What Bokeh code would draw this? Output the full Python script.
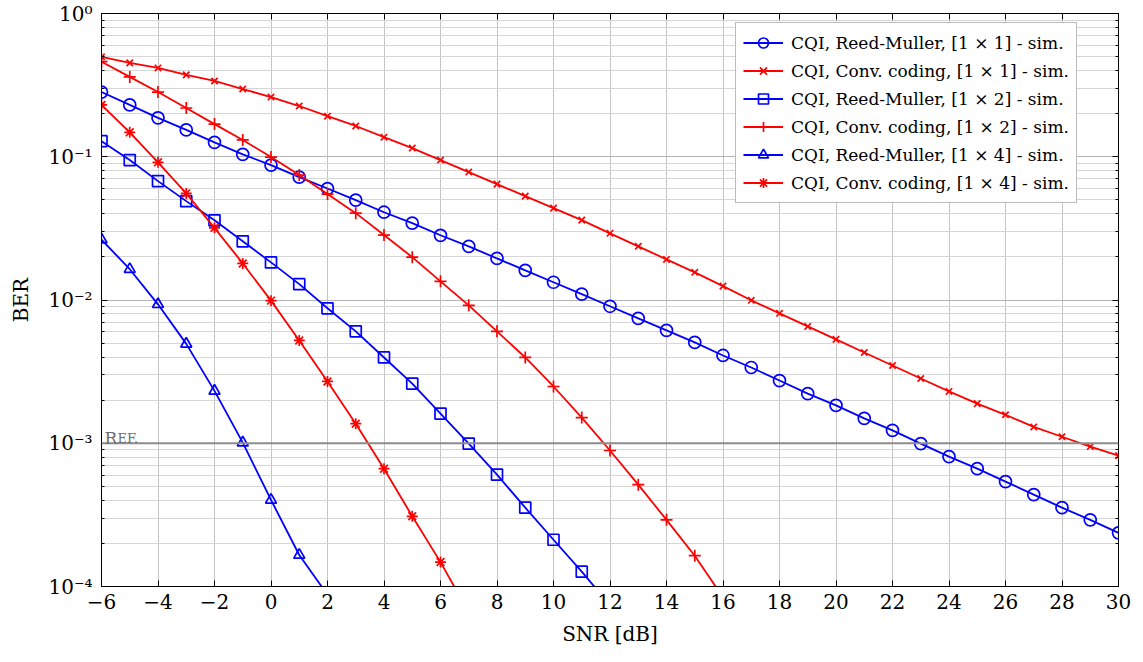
from bokeh.plotting import figure
from bokeh.models import (FixedTicker, CustomJSTickFormatter, LinearAxis, LogAxis,
                          Span, Label, Legend, LegendItem, Range1d)
from bokeh.embed import file_html
from bokeh.resources import INLINE

# ---- data: bit error rate vs. SNR ----
snr_rm_1x1 = list(range(-6, 31))
ber_rm_1x1 = [0.283, 0.230, 0.187, 0.154, 0.126, 0.104, 0.0875, 0.072, 0.060, 0.0498,
              0.041, 0.0344, 0.0283, 0.0237, 0.0195, 0.0161, 0.0133, 0.011, 0.00904,
              0.00745, 0.00614, 0.00506, 0.0041, 0.00338, 0.00274, 0.00222, 0.00184,
              0.00149, 0.00123, 0.000995, 0.000807, 0.000665, 0.00054, 0.000438,
              0.000355, 0.000292, 0.000237]

snr_cc_1x1 = list(range(-6, 31))
ber_cc_1x1 = [0.498, 0.452, 0.417, 0.373, 0.338, 0.297, 0.261, 0.226, 0.192, 0.164,
              0.137, 0.115, 0.0948, 0.0782, 0.0644, 0.0531, 0.0438, 0.0361, 0.0292,
              0.0237, 0.0192, 0.0156, 0.0125, 0.00995, 0.00807, 0.00654, 0.00531,
              0.0043, 0.00349, 0.00283, 0.0023, 0.00189, 0.00158, 0.0013, 0.00111,
              0.000948, 0.00082]

snr_rm_1x2 = list(range(-6, 13))
ber_rm_1x2 = [0.1285, 0.0948, 0.0676, 0.049, 0.036, 0.0257, 0.0183, 0.0129, 0.00875,
              0.00604, 0.00397, 0.00261, 0.00161, 0.000995, 0.000604, 0.000355,
              0.000212, 0.000127, 0.000074]

snr_cc_1x2 = list(range(-6, 17))
ber_cc_1x2 = [0.461, 0.361, 0.283, 0.219, 0.169, 0.131, 0.0995, 0.0745, 0.0549,
              0.0404, 0.0284, 0.0199, 0.0135, 0.00918, 0.00604, 0.00397, 0.00249,
              0.00151, 0.00089, 0.000514, 0.000292, 0.000164, 0.000084]

snr_rm_1x4 = list(range(-6, 3))
ber_rm_1x4 = [0.0264, 0.0164, 0.00933, 0.00494, 0.00232, 0.00101, 0.000402,
              0.000166, 0.0000875]

snr_cc_1x4 = list(range(-6, 8))
ber_cc_1x4 = [0.23, 0.148, 0.0914, 0.0555, 0.0319, 0.018, 0.0099, 0.00522, 0.0027,
              0.00137, 0.000664, 0.000309, 0.000148, 0.000066]

ref_ber = 1e-3

x_ticks = list(range(-6, 31, 2))
y_ticks = [1e-4, 1e-3, 1e-2, 1e-1, 1.0]
y_tick_labels = ["10\u207b\u2074", "10\u207b\u00b3", "10\u207b\u00b2", "10\u207b\u00b9", "10\u2070"]
y_minor = [m * d for d in (1e-4, 1e-3, 1e-2, 1e-1) for m in range(2, 10)]

labels = [
    "CQI, Reed-Muller, [1 \u00d7 1] - sim.",
    "CQI, Conv. coding, [1 \u00d7 1] - sim.",
    "CQI, Reed-Muller, [1 \u00d7 2] - sim.",
    "CQI, Conv. coding, [1 \u00d7 2] - sim.",
    "CQI, Reed-Muller, [1 \u00d7 4] - sim.",
    "CQI, Conv. coding, [1 \u00d7 4] - sim.",
]

FONT = "DejaVu Serif"
BLUE = "#0000ff"
RED = "#ff0000"

p = figure(width=1143, height=662, y_axis_type="log",
           x_range=Range1d(-6, 30), y_range=Range1d(1e-4, 1),
           output_backend="svg", toolbar_location=None,
           min_border_left=101, min_border_right=25,
           min_border_top=13, min_border_bottom=76)
p.background_fill_color = "white"
p.border_fill_color = "white"
p.outline_line_color = "black"
p.outline_line_width = 1

# grid
xt = FixedTicker(ticks=x_ticks)
yt = FixedTicker(ticks=y_ticks, minor_ticks=y_minor)
p.xaxis.ticker = xt
p.yaxis.ticker = yt
p.xgrid.ticker = xt
p.ygrid.ticker = yt
p.xgrid.grid_line_color = "#c4c4c4"
p.ygrid.grid_line_color = "#b4b4b4"
p.ygrid.minor_grid_line_color = "#d6d6d6"
p.xgrid.grid_line_width = 1
p.ygrid.grid_line_width = 1

# axes
p.xaxis.formatter = CustomJSTickFormatter(code="return String(tick).replace('-', '\\u2212');")
p.yaxis.formatter = CustomJSTickFormatter(
    args=dict(tvals=y_ticks, tlabels=y_tick_labels),
    code="""
    let best = 0, bd = Infinity;
    for (let i = 0; i < tvals.length; i++) {
        const d = Math.abs(Math.log10(tvals[i]) - Math.log10(tick));
        if (d < bd) { bd = d; best = i; }
    }
    return tlabels[best];
    """)

for ax in (p.xaxis[0], p.yaxis[0]):
    ax.axis_line_color = "black"
    ax.major_tick_in = 6
    ax.major_tick_out = 0
    ax.minor_tick_in = 3
    ax.minor_tick_out = 0
    ax.major_tick_line_color = "black"
    ax.minor_tick_line_color = "black"
    ax.major_label_text_font = FONT
    ax.major_label_text_font_size = "20px"
    ax.major_label_text_color = "black"
    ax.axis_label_text_font = FONT
    ax.axis_label_text_font_size = "20px"
    ax.axis_label_text_font_style = "normal"
    ax.axis_label_text_color = "black"

p.xaxis.minor_tick_line_color = None
p.xaxis.major_label_standoff = 7
p.yaxis.major_label_standoff = 9
p.xaxis.axis_label = "SNR [dB]"
p.yaxis.axis_label = "BER"
p.xaxis.axis_label_standoff = 10
p.yaxis.axis_label_standoff = 12

# mirrored ticks on top and right
blank = CustomJSTickFormatter(code="return '';")
top = LinearAxis(ticker=xt, formatter=blank, major_tick_in=6, major_tick_out=0,
                 minor_tick_line_color=None, axis_line_color=None,
                 major_label_standoff=0, major_label_text_font_size="1px")
right = LogAxis(ticker=yt, formatter=blank, major_tick_in=6, major_tick_out=0,
                minor_tick_in=3, minor_tick_out=0, axis_line_color=None,
                major_label_standoff=0, major_label_text_font_size="1px")
p.add_layout(top, "above")
p.add_layout(right, "right")

# reference BER level, labelled in small capitals
p.add_layout(Span(location=ref_ber, dimension="width", line_color="#8c8c8c", line_width=2))
p.add_layout(Label(x=-6, y=ref_ber, x_offset=3, y_offset=5, text="R",
                   text_font=FONT, text_font_size="17px", text_color="#6e6e6e",
                   text_baseline="alphabetic"))
p.add_layout(Label(x=-6, y=ref_ber, x_offset=16, y_offset=5, text="EF.",
                   text_font=FONT, text_font_size="13px", text_color="#6e6e6e",
                   text_baseline="alphabetic"))

# curves
series = [
    (snr_rm_1x1, ber_rm_1x1, BLUE, "circle", 12),
    (snr_cc_1x1, ber_cc_1x1, RED, "x", 9),
    (snr_rm_1x2, ber_rm_1x2, BLUE, "square", 11),
    (snr_cc_1x2, ber_cc_1x2, RED, "cross", 12),
    (snr_rm_1x4, ber_rm_1x4, BLUE, "triangle", 11),
    (snr_cc_1x4, ber_cc_1x4, RED, "asterisk", 11),
]

items = []
for (xs, ys, col, mk, sz), lab in zip(series, labels):
    ln = p.line(xs, ys, line_color=col, line_width=1.8)
    sc = p.scatter(xs, ys, marker=mk, size=sz, line_color=col, line_width=1.7,
                   fill_color=None)
    items.append(LegendItem(label=lab, renderers=[ln, sc]))

legend = Legend(items=items, location=(634, 383),
                label_text_font=FONT, label_text_font_size="17px",
                label_text_color="black",
                glyph_width=40, glyph_height=25, label_height=25,
                spacing=3, padding=7, margin=0, label_standoff=8,
                border_line_color="#7a7a7a", border_line_width=1,
                background_fill_color="white", background_fill_alpha=1)
p.add_layout(legend, "center")

open("out.html", "w").write(file_html(p, INLINE))
